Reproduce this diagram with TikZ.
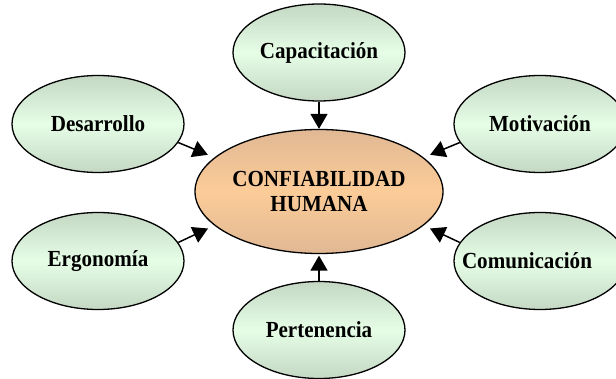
\documentclass[tikz,border=0pt]{standalone}
\usepackage{fontspec}
\usepackage{graphicx}
\setmainfont{Liberation Serif}
\usetikzlibrary{shapes.geometric,arrows.meta}
\newcommand{\tallTxt}[1]{\scalebox{0.98}[1.07]{#1}}
\definecolor{gedge}{RGB}{196,216,196}
\definecolor{gmid}{RGB}{230,253,230}
\definecolor{oedge}{RGB}{224,184,148}
\definecolor{omid}{RGB}{252,204,152}
\tikzset{
  outer/.style={ellipse, draw=black, line width=1.3pt, inner sep=0pt,
    minimum width=172pt, minimum height=97pt,
    top color=gedge, bottom color=gedge, middle color=gmid,
    font=\bfseries\fontsize{21.5}{25}\selectfont},
  core/.style={ellipse, draw=black, line width=1.3pt, inner sep=0pt,
    minimum width=248pt, minimum height=124pt, align=center,
    top color=oedge, bottom color=oedge, middle color=omid,
    font=\bfseries\fontsize{21.5}{25}\selectfont},
  arr/.style={line width=1.5pt, -{Triangle[length=15pt,width=17pt]}}
}
\begin{document}
\begin{tikzpicture}[x=1pt,y=-1pt]
\useasboundingbox (0,0) rectangle (616,379);
\node[core] (cen) at (319,191.5) {\tallTxt{CONFIABILIDAD}\\\tallTxt{HUMANA}};
\node[outer] (cap) at (319,52.5) {\makebox[0pt]{\tallTxt{Capacitaci\'on}}};
\node[outer] (des) at (98,124) {\makebox[0pt]{\tallTxt{Desarrollo}}};
\node[outer] (mot) at (540,124) {\makebox[0pt]{\tallTxt{Motivaci\'on}}};
\node[outer] (erg) at (98,261) {\makebox[0pt]{\tallTxt{Ergonom\'ia}}};
\node[outer] (com) at (540,261) {\makebox[0pt]{\hspace*{-26pt}\tallTxt{Comunicaci\'on}}};
\node[outer] (per) at (319,330) {\makebox[0pt]{\tallTxt{Pertenencia}}};
\draw[arr] (cap.south) -- (cen.north);
\draw[arr, shorten >=1.5pt] (per.north) -- (cen.south);
\draw[arr, shorten >=7pt] (des.-13) -- (cen.162);
\draw[arr, shorten >=7pt] (erg.13) -- (cen.198);
\draw[arr, shorten >=7pt] (mot.193) -- (cen.18);
\draw[arr, shorten >=7pt] (com.167) -- (cen.-18);
\end{tikzpicture}
\end{document}
